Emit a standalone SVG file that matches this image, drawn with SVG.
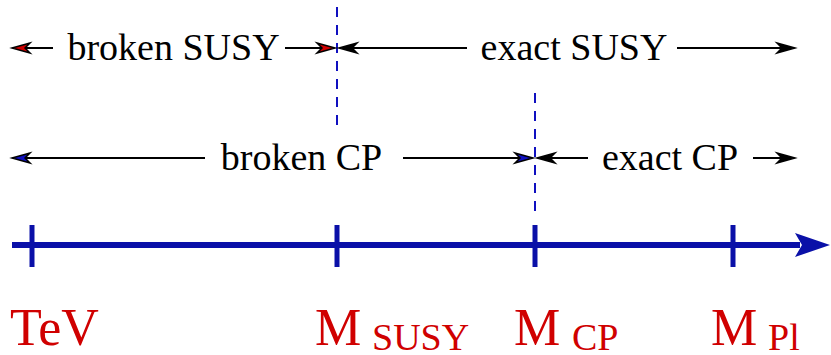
<svg xmlns="http://www.w3.org/2000/svg" width="831" height="355" viewBox="0 0 831 355">
<style>
text{font-family:'Liberation Serif','Times New Roman',serif}
.lbl{font-size:38px;fill:#000;text-anchor:middle}
.scale{fill:#d00000}
.ln{stroke:#000;stroke-width:2;fill:none}
.hd{stroke:#000;stroke-width:1.5}
.dash{stroke:#1010c0;stroke-width:2;stroke-dasharray:10 8;fill:none}
.axis{stroke:#0a10a8;stroke-width:6;fill:none}
.tick{stroke:#0a10a8;stroke-width:5}
</style>
<g id="connectors">
<line class="dash" x1="337" y1="7" x2="337" y2="126"/>
<line class="dash" x1="535" y1="93" x2="535" y2="212"/>
<line class="ln" x1="53" y1="48" x2="26" y2="48"/>
<line class="ln" x1="285" y1="48" x2="322" y2="48"/>
<line class="ln" x1="467" y1="48" x2="352" y2="48"/>
<line class="ln" x1="677" y1="48" x2="782" y2="48"/>
<line class="ln" x1="205" y1="158" x2="26" y2="158"/>
<line class="ln" x1="403" y1="158" x2="520" y2="158"/>
<line class="ln" x1="588" y1="158" x2="550" y2="158"/>
<line class="ln" x1="753" y1="158" x2="782" y2="158"/>
<path class="hd" fill="#d00000" d="M12,48 L30,43 L25,48 L30,53 Z"/>
<path class="hd" fill="#d00000" d="M335,48 L317,43 L322,48 L317,53 Z"/>
<path class="hd" fill="#000" d="M339,48 L357,43 L352,48 L357,53 Z"/>
<path class="hd" fill="#000" d="M795,48 L777,43 L782,48 L777,53 Z"/>
<path class="hd" fill="#1010c0" d="M12,158 L30,153 L25,158 L30,163 Z"/>
<path class="hd" fill="#1010c0" d="M533,158 L515,153 L520,158 L515,163 Z"/>
<path class="hd" fill="#000" d="M537,158 L555,153 L550,158 L555,163 Z"/>
<path class="hd" fill="#000" d="M795,158 L777,153 L782,158 L777,163 Z"/>
</g>
<g id="axis">
<line class="axis" x1="12" y1="245" x2="800" y2="245"/>
<path d="M830,245 L795,233 L802,245 L795,257 Z" fill="#0a10a8"/>
<line class="tick" x1="32" y1="225" x2="32" y2="267"/>
<line class="tick" x1="337" y1="225" x2="337" y2="267"/>
<line class="tick" x1="535" y1="225" x2="535" y2="267"/>
<line class="tick" x1="733" y1="225" x2="733" y2="267"/>
</g>
<g id="broken-susy"><text class="lbl" font-family="'Liberation Serif', serif" x="173.5" y="60">broken SUSY</text></g>
<g id="exact-susy"><text class="lbl" font-family="'Liberation Serif', serif" x="574" y="60">exact SUSY</text></g>
<g id="broken-cp"><text class="lbl" font-family="'Liberation Serif', serif" x="301.5" y="170">broken CP</text></g>
<g id="exact-cp"><text class="lbl" font-family="'Liberation Serif', serif" x="670" y="170">exact CP</text></g>
<g id="tev"><text class="scale" font-family="'Liberation Serif', serif" x="10" y="345" font-size="52">TeV</text></g>
<g id="msusy"><text class="scale" font-family="'Liberation Serif', serif" x="315" y="345" font-size="52">M<tspan font-size="38" x="372" y="350">SUSY</tspan></text></g>
<g id="mcp"><text class="scale" font-family="'Liberation Serif', serif" x="514" y="345" font-size="52">M<tspan font-size="38" x="572" y="350">CP</tspan></text></g>
<g id="mpl"><text class="scale" font-family="'Liberation Serif', serif" x="711" y="345" font-size="52">M<tspan font-size="38" x="768" y="350">Pl</tspan></text></g>
</svg>
